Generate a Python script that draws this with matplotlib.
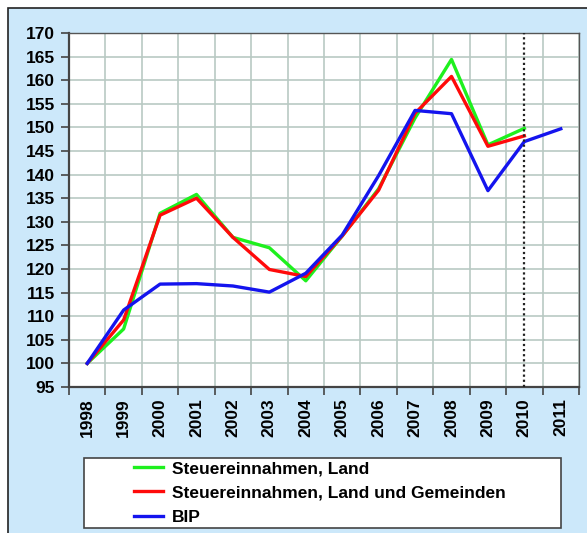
import matplotlib
matplotlib.use("Agg")
import matplotlib.pyplot as plt
import numpy as np
from matplotlib.patches import Rectangle

years = ["1998", "1999", "2000", "2001", "2002", "2003", "2004",
         "2005", "2006", "2007", "2008", "2009", "2010", "2011"]
steuer_land = [100, 107.3, 131.8, 135.8, 126.7, 124.5, 117.5,
               127.0, 137.0, 152.0, 164.4, 146.3, 149.8, np.nan]
steuer_land_gem = [100, 109.2, 131.4, 135.0, 126.7, 119.9, 118.4,
                   127.0, 136.7, 153.0, 160.8, 146.0, 148.2, np.nan]
bip = [100, 111.3, 116.8, 116.9, 116.4, 115.1, 119.1,
       127.2, 139.8, 153.6, 152.9, 136.6, 147.0, 149.7]
series_labels = ["Steuereinnahmen, Land",
                 "Steuereinnahmen, Land und Gemeinden", "BIP"]

W, H = 587, 533
fig = plt.figure(figsize=(W / 100, H / 100), dpi=100)
fig.patch.set_facecolor("white")

# light blue panel with dark border (behind everything)
bg = fig.add_axes([0, 0, 1, 1], zorder=-10)
bg.set_xlim(0, W)
bg.set_ylim(H, 0)
bg.axis("off")
bg.add_patch(Rectangle((8, 8), W + 20, H + 20, facecolor="#CCE8FA",
                       edgecolor="#222222", linewidth=1.2))
# legend box
bg.add_patch(Rectangle((84, 458), 561 - 84, 528 - 458, facecolor="white",
                       edgecolor="#444444", linewidth=1.2))

ax = fig.add_axes([69 / W, 1 - 387 / H, (579 - 69) / W, (387 - 33) / H])
ax.set_facecolor("white")

x = np.arange(len(years))
ax.plot(x, steuer_land, color="#1EF01E", linewidth=2.4, label=series_labels[0], zorder=3)
ax.plot(x, steuer_land_gem, color="#FF0A0A", linewidth=2.4, label=series_labels[1], zorder=4)
ax.plot(x, bip, color="#1414EE", linewidth=2.4, label=series_labels[2], zorder=5)
ax.axvline(12, color="#222222", linestyle=(0, (1, 1.3)), linewidth=1.6, zorder=6)

ax.set_xlim(-0.5, len(years) - 0.5)
ax.set_ylim(95, 170)
ax.set_yticks(np.arange(95, 171, 5))
ax.set_xticks(x)
ax.set_xticklabels(years, rotation=90, fontweight="bold", fontsize=12.5,
                   family="Liberation Sans")
ax.set_xticks(np.arange(-0.5, len(years)), minor=True)
for lab in ax.get_yticklabels():
    lab.set_fontweight("bold")
    lab.set_fontsize(12.5)
    lab.set_family("Liberation Sans")

ax.tick_params(axis="x", which="major", length=0, pad=8)
ax.tick_params(axis="x", which="minor", length=6, width=1.2, color="#444444", direction="out")
ax.tick_params(axis="y", length=6, width=1.2, color="#444444", direction="out", pad=4)

ax.grid(True, axis="y", color="#B9C9C3", linewidth=1.2)
ax.grid(True, axis="x", which="minor", color="#B9C9C3", linewidth=1.2)
ax.set_axisbelow(True)
for side in ["left", "bottom"]:
    ax.spines[side].set_color("#444444")
    ax.spines[side].set_linewidth(1.6)
for side in ["top", "right"]:
    ax.spines[side].set_color("#555555")
    ax.spines[side].set_linewidth(1.0)

handles, labels = ax.get_legend_handles_labels()
leg = fig.legend(handles, labels, loc="center left",
                 bbox_to_anchor=(134 / W, 1 - 493 / H), frameon=False,
                 handlelength=1.67, handletextpad=0.5,
                 prop={"family": "Liberation Sans", "weight": "bold", "size": 12.5},
                 borderaxespad=0, labelspacing=0.53, borderpad=0)
for line in leg.get_lines():
    line.set_linewidth(2.4)

fig.savefig("out.png", dpi=100, facecolor=fig.get_facecolor())
